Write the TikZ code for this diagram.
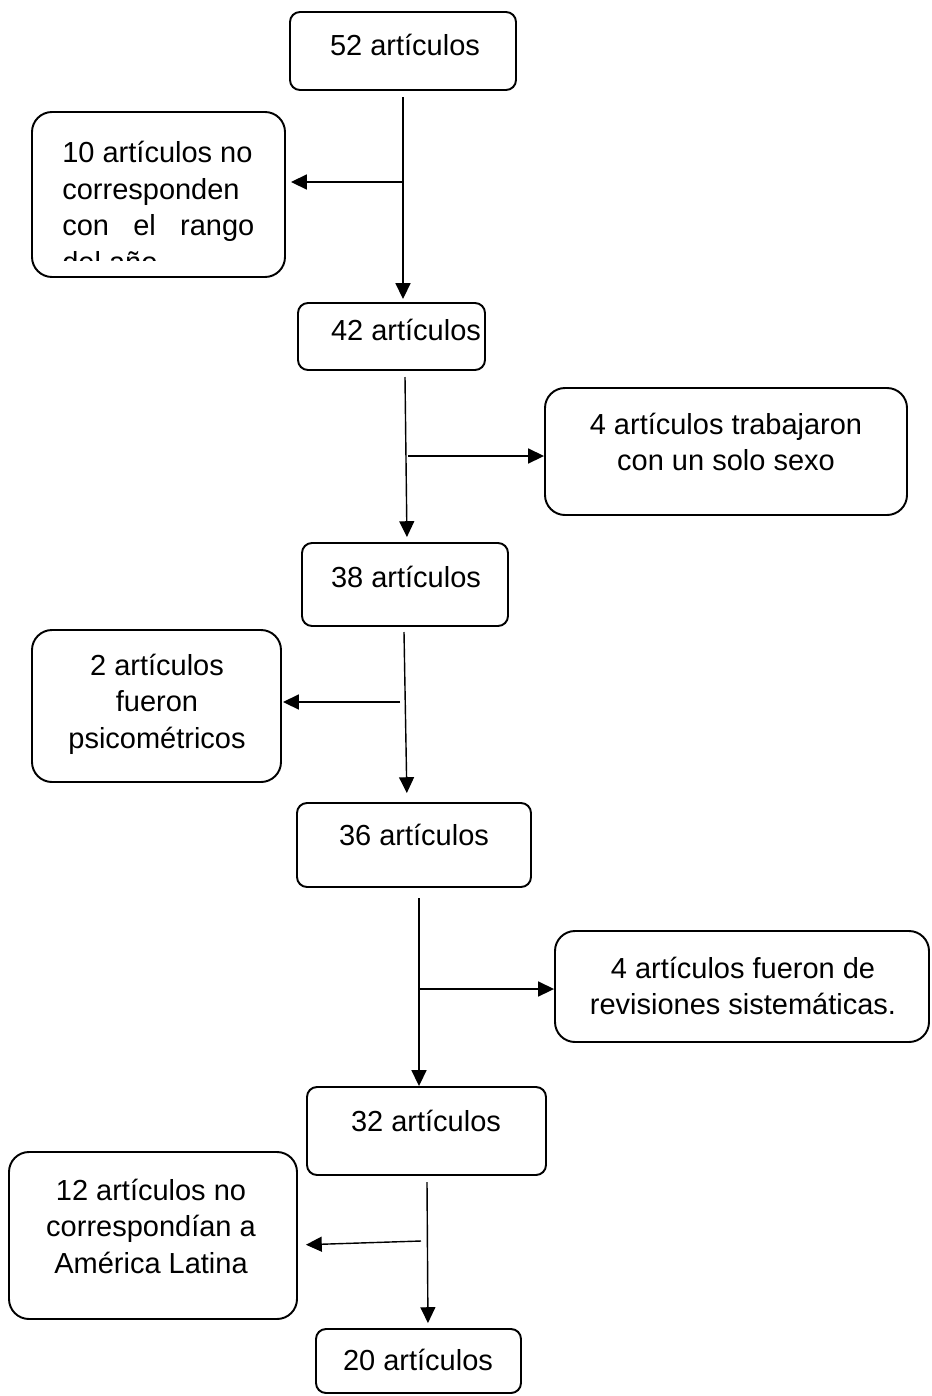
\documentclass[tikz,border=0pt]{standalone}
\usepackage{fontspec}
\setmainfont{Liberation Sans}
\usetikzlibrary{fit,arrows.meta,calc}
\begin{document}
\begin{tikzpicture}[x=0.02cm,y=-0.02cm,
  mainbox/.style={draw,line width=1.1pt,rounded corners=0.2cm,inner sep=0pt},
  sidebox/.style={draw,line width=1.1pt,rounded corners=0.4cm,inner sep=0pt},
  txt/.style={inner sep=0pt,font=\fontsize{16.5}{20.8}\selectfont},
  arr/.style={line width=0.8pt,-{Triangle[length=9pt,width=8.5pt]}}]
\useasboundingbox (0,0) rectangle (931,1396);
% main chain
\node[mainbox,fit={(290,12)(516,90)}] (b52) {};
\node[txt] (t52) at (405,45) {52 artículos};
\node[mainbox,fit={(298,303)(485,370)}] (b42) {};
\node[txt] (t42) at (406,330) {42 artículos};
\node[mainbox,fit={(302,543)(508,626)}] (b38) {};
\node[txt] (t38) at (406,577) {38 artículos};
\node[mainbox,fit={(297,803)(531,887)}] (b36) {};
\node[txt] (t36) at (414,835) {36 artículos};
\node[mainbox,fit={(307,1087)(546,1175)}] (b32) {};
\node[txt] (t32) at (426,1121) {32 artículos};
\node[mainbox,fit={(316,1329)(521,1393)}] (b20) {};
\node[txt] (t20) at (418,1360) {20 artículos};
% side boxes
\node[sidebox,fit={(32,112)(285,277)}] (s1) {};
\begin{scope}
\clip (32,112) rectangle (285,260);
\node[txt,align=left,anchor=north west] (ts1) at (62,141) {10 artículos no\\corresponden\\\makebox[3.84cm][l]{con\hfill el\hfill rango}\\del año};
\end{scope}
\node[sidebox,fit={(545,388)(907,515)}] (s2) {};
\node[txt,align=center] (ts2) at (726,442) {4 artículos trabajaron\\con un solo sexo};
\node[sidebox,fit={(32,630)(281,782)}] (s3) {};
\node[txt,align=center] (ts3) at (157,704) {2 artículos\\fueron\\psicométricos};
\node[sidebox,fit={(555,931)(929,1042)}] (s4) {};
\node[txt,align=center] (ts4) at (743,986) {4 artículos fueron de\\revisiones sistemáticas.};
\node[sidebox,fit={(9,1152)(297,1319)}] (s5) {};
\node[txt,align=center] (ts5) at (151,1226) {12 artículos no\\correspondían a\\América Latina};
% connector start points
\coordinate (v1) at (403,97);
\coordinate (v2) at (405,377);
\coordinate (v3) at (404,632);
\coordinate (v4) at (419,898);
\coordinate (v5) at (427,1182);
\coordinate (h1) at (403,182);
\coordinate (h2) at (408,456);
\coordinate (h3) at (400,702);
\coordinate (h4) at (420,989);
\coordinate (h5) at (421,1241);
% vertical connectors
\draw[arr,shorten >=0.06cm] (v1) -- (v1 |- b42.north);
\draw[arr,shorten >=0.1cm] (v2) -- ([xshift=0.04cm]v2 |- b38.north);
\draw[arr,shorten >=0.18cm] (v3) -- ([xshift=0.06cm]v3 |- b36.north);
\draw[arr] (v4) -- (v4 |- b32.north);
\draw[arr,shorten >=0.1cm] (v5) -- ([xshift=0.02cm]v5 |- b20.north);
% side connectors
\draw[arr,shorten >=0.1cm] (h1) -- (h1 -| s1.east);
\draw[arr] (h2) -- (h2 -| s2.west);
\draw[arr,shorten >=0.02cm] (h3) -- (h3 -| s3.east);
\draw[arr] (h4) -- (h4 -| s4.west);
\draw[arr,shorten >=0.16cm] (h5) -- ([yshift=-0.08cm]h5 -| s5.east);
\end{tikzpicture}
\end{document}
